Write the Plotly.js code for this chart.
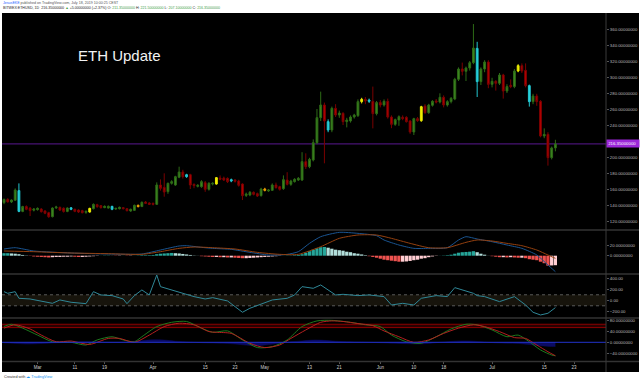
<!DOCTYPE html>
<html><head><meta charset="utf-8">
<script src="https://cdn.plot.ly/plotly-3.0.1.min.js"></script>
<style>html,body{margin:0;padding:0;background:#fff}#chart{width:640px;height:383px}</style>
</head><body><div id="chart"></div>
<script>
// ---------- DATA ----------
const startDate = '2019-02-20';
const opens = [143,147,143.8,146,158,132,138,136,133.5,134.2,135,132.5,130.4,125.4,136.5,137.1,136,132,136.5,134.6,
133.7,132.9,130.8,131.2,135.4,140.4,139.2,136.7,136.2,138.3,135,135.4,136.7,135.4,132.5,133.3,139.6,138,143.7,142.5,
142.1,140.8,165,162,156.7,167.1,165,174.6,181.2,177.9,177.9,165.8,163.3,162.9,167.9,159.6,166.2,166.2,173.7,173.7,
173.3,171.7,171.2,170,166.2,152,152.5,155.8,154.2,151.7,160,157.5,158.3,165,162.9,160.4,171.2,165.8,169.2,171.2,
171.2,194.2,187.9,196.3,217.9,249.2,265,244.2,233.7,260.8,252.5,254.6,244.2,245,250,251.7,269.2,272.1,271.2,269.6,
254.2,268,265,269.6,250,240.8,246.2,249.6,249.6,245,231.2,247.9,245.4,263.7,255.4,264.6,270,268.7,274.6,265,
269.2,272.5,297.1,310,307.1,311.2,317.9,335.8,294.2,310,318.7,290.8,294.6,292.1,302.5,282.5,289.6,288,307.5,314.2,
308.3,289.2,269.2,276.2,269.6,226.2,228.3,199.2,211.35];
const highs = [148,148.5,147,160.8,167,139,139.5,137.5,136,137,136,133.5,131.5,137,139,138,137,137,137.5,135.5,
134.5,134,133,136.5,142,141.5,140,139.5,139.5,139,136.5,138,137.5,136,135.5,140.5,140.5,144.5,145,143.5,
143,168.3,172,179.6,168,171,176.5,187.9,184,179,179,167,166,171,170,168.5,168.5,175,177,175.5,
174.5,173,172.5,171.5,167,155.5,157.5,157,155.5,161.5,161.5,160,167,168,164,177,181,171.5,173.5,175,
206,204.6,199,222,260,281.7,268,247,263,266,258,256,249,252,254,272,274,275,273,288,
270,271,272,273,252,248,252,252,251,246,249,250,264,266,266.5,271,272.5,279.6,277,271,
275,299,312,318,313,320,366.2,344,312,321,321,299,296,305,304,291,297,310,316,317,
317,290.5,279,279,271,235.8,231,213,221.5];
const lows = [141,143,142.5,145,131,131,133.5,126.2,132,133,130.5,128.5,124,124.5,135,132.5,130.5,131,133.5,131,
130,129.5,129,130.5,134.5,136.5,135.5,136,135.5,133.5,134,134.5,134.5,132,131.5,132.5,137,137.5,141.5,140,
139.5,140,158,150.4,154,165.5,164,173.5,173,174,160,161,162,161.5,156.5,158,164.5,165.5,171,170,
167.5,168.5,168,163,146.2,150,151,152,150,150.5,157,156.5,157.5,160.5,158,159,164.5,164,168,170,
170,185,186,194.5,216,245,192.1,231,231,250,249,240,237,243,248,250,267,266,267.5,235.8,
252,262,263,248,236,239,239,246,243,229,227.5,244,244,254,254,263,267,267,262,263,
267,271,295,302,295,308,316,275,290,306,286,287,283,290,273,280,286,286,306,305,
287,263,266,264,224.6,223.5,189.2,197,207.1];
const closes = [147,144,146.2,158.7,132,138,134.6,133,135,135.8,131.7,129.6,125.4,136.2,137.5,133.7,132,136.2,134.6,132.1,
131.2,130.4,132.1,135.8,140.8,137.9,136.7,138.3,138.3,134.6,135.8,137.1,135.4,132.9,134.6,139.6,138,143.3,142.1,140.8,
140.8,165,160.8,156.2,167.1,169.2,175.4,181.2,175.4,175.4,165,164.2,164.6,169.2,159.6,167.1,167.1,174.2,172.1,171.2,
169.2,170,169.6,164.6,151.7,153.7,155.8,153.3,151.2,160,158.3,158.7,165,161.7,159.6,171.7,165.8,170,172.1,173.3,
194.2,187.9,197.1,217.9,249.2,265,245,233.7,260.8,252.5,255,244.2,246.2,250,252.5,269.2,272.1,270,269.6,254.2,
268,265,269.6,250,240.8,246.7,250.4,248,244.2,231.2,247.9,245.4,262.9,255.4,265,269.6,268.7,274.6,265,269.2,
273.3,297.1,310,307.1,311.2,317.9,336.2,294.2,310,318.7,290.8,294.6,292.1,302.5,282.5,288,288,307.5,314.2,307.5,
289.2,269.2,276.2,269.2,226.2,228.3,199.2,211.35,216.35];
const cyanIdx = [4,18,29,49,61,87,98,127,141];
const yellowIdx = [23,57,96,112,138];
const orangeIdx = [36,70];

// MACD panel
const macdIdx = [0,3,8,18,28,37,42,47,49,53,56,61,66,71,76,79,82,85,90,95,100,102,106,110,114,119,122,124,127,131,135,139,143,146,148];
const macdVal = [13.4,16,9.4,5.4,3.4,3.4,11.4,19.4,20,16.7,14.7,12.7,6.7,1.4,2.7,8,24.7,38,46.7,44.7,40,31.4,21.4,14.7,14.7,16,31.4,38,33.4,28,21.4,14.7,1.4,-18.6,-32];
const signalIdx = [0,8,18,28,37,42,47,51,56,62,68,74,79,85,90,95,100,104,109,114,119,124,127,131,135,139,143,146,148];
const signalVal = [9.4,8,5.4,4,2.7,8,14.7,17.4,16,13.4,6.7,2.7,2.7,18,34.7,41.4,41.4,34.7,24.7,16,16,26.7,31.4,29.4,24.7,20,11.4,1.4,-5.3];
const histVal = [5,5,4.5,4,3, 1.5,0.5,-0.5,
-1.5,-2,-2.5,-3,-3.5,-3,-2.5,-2.5,-2,-2,-1.5,-2,-2.5,-2.5,-2,-1.5,-1,
-0.5,0.2,0.5,0.5,0.2,-0.5,-0.5,0.2,-0.5,-0.5,0.2,0.5,1,1,1,
1.5,3,4,4.5,5,5.5,5,4.5,3.5,2.5,1.5,0.5,0.2,
-1,-1.5,-2,-2.5,-2.5,-3,-3,-3.5,-3.5,-4,-4.5,-5,-5,-4.5,-4,-3.5,-3,-2.5,-2,-1.5,-1,
-0.5,0.2,0.5,0.5,1,1.5,
3,6,9,12,15,17,17.5,16,14,12,11,10,8,7,5,4,2.5,1,
-1,-2.5,-4,-6,-8,-9,-10,-11,-12,-12,-11.5,-10.5,-9,-8,-6,-5,-3,-1.5,
-0.5,0.2,0.5,1,2,
4,6,7,7.5,8,9,7,4,2,
0.2,-1,-2,-3,-3,-3.5,-3,-3.5,-4,-4,-5,-7,-8,-9,-12,-15,-20,-19.5,-19];

// CCI panel
const cciIdx = [0,1,3,4,7,10,13,15,18,22,24,26,29,32,33,35,37,39,41,42,45,48,51,54,56,60,64,66,69,72,76,78,80,83,85,87,89,91,95,98,102,104,107,110,112,116,119,121,123,126,127,129,133,137,140,142,144,146,148];
const cciVal = [157,127,157,36,24,-12,-55,6,-36,-61,157,97,85,24,-61,85,188,97,460,248,188,127,67,24,48,-12,-218,-145,-73,6,36,97,248,218,279,188,97,109,85,97,67,-85,-55,-85,36,85,67,230,188,127,85,67,-24,67,-85,-218,-267,-236,-133];
const cciLevels = [-100, 100];

// Stochastic panel
const stochRedIdx = [0,3,7,10,14,18,23,28,31,35,39,43,47,51,55,57,61,66,70,74,77,81,85,88,91,95,99,102,106,110,114,118,122,126,129,133,137,140,143,146,148];
const stochRedVal = [51,63,48,26,2,4.5,-7.6,14,14,0,26,56.6,68.7,63,38.5,36,32,-3.6,-19,-9.7,14,44.5,72,77,75,67.5,60,41,20,0,8.5,32,51,63,56.6,38.5,17,14,-9.7,-34,-48.5];
const stochGreenIdx = [0,2,5,9,13,18,22,25,29,32,35,37,41,45,49,53,56,60,64,68,72,76,80,84,88,93,97,101,104,108,112,116,120,124,127,131,135,138,141,144,147,148];
const stochGreenVal = [57,65,51,26,2,0,-9.7,8.5,20,8.5,2,20,56.6,72,75,51,36,41,8.5,-19,-15.8,8.5,56.6,77,79,72,63,56.6,26,2,-3.6,20,48,65,63,44.5,20,26,2,-27.5,-45.8,-48.5];
const stochFillIdx = [0,3,6,9,12,15,18,22,26,30,34,37,40,43,46,50,54,58,62,65,68,71,74,77,80,83,86,89,92,96,100,104,108,111,114,117,120,123,126,129,132,135,138,141,144,147,148];
const stochFillVal = [-2,-4,-6,-5,-3,-1,1,2,1,0,2,6,9,8,4,1,-2,-3,-6,-10,-12,-8,-3,2,5,8,7,4,2,1,-1,-3,-5,-6,-4,0,3,5,4,1,-2,-3,-4,-8,-12,-15,-15];
const stochLevels = [53, 65];

// Axis ticks (220 is hidden under the last-price label in the reference)
const priceTicks = [120,140,160,180,200,240,260,280,300,320,340,360];
const macdTicks = [0,20];
const cciTicks = [-200,0,200,400];
const stochTicks = [-40,0,40,80];
const xTickDates = ['2019-03-01','2019-03-11','2019-03-19','2019-04-01','2019-04-15','2019-04-23','2019-05-01','2019-05-13','2019-05-21','2019-06-01','2019-06-10','2019-06-18','2019-07-01','2019-07-15','2019-07-23'];
const xTickText = ['Mar','11','19','Apr','15','23','May','13','21','Jun','10','18','Jul','15','23'];

// ---------- BUILD ----------
const t0 = new Date(startDate + 'T00:00:00Z').getTime();
const dates = closes.map((_, i) => new Date(t0 + i * 86400000).toISOString().slice(0, 10));
const pick = (arr, idx) => idx.map(i => arr[i]);
const special = new Set([...cyanIdx, ...yellowIdx, ...orangeIdx]);
const normalIdx = closes.map((_, i) => i).filter(i => !special.has(i));

function candle(idx, incLine, incFill, decLine, decFill) {
  return {
    type: 'candlestick', xaxis: 'x', yaxis: 'y',
    x: pick(dates, idx), open: pick(opens, idx), high: pick(highs, idx), low: pick(lows, idx), close: pick(closes, idx),
    increasing: {line: {color: incLine, width: 1}, fillcolor: incFill},
    decreasing: {line: {color: decLine, width: 1}, fillcolor: decFill},
    whiskerwidth: 0, showlegend: false, hoverinfo: 'skip'
  };
}
const traces = [
  candle(normalIdx, '#2d6a16', '#3f8a22', '#7a0000', '#b80000'),
  candle(cyanIdx, '#22c6d0', '#2ad4de', '#22c6d0', '#2ad4de'),
  candle(yellowIdx, '#e8e800', '#f2f200', '#e8e800', '#f2f200'),
  candle(orangeIdx, '#e89a00', '#f0a800', '#e89a00', '#f0a800')
];

// histogram
const histColors = histVal.map((v, i) => {
  const p = i > 0 ? histVal[i - 1] : v;
  if (v >= 0) return v >= p ? '#26a69a' : '#b2dfdb';
  return v < p ? '#ef5350' : '#ffcdd2';
});
traces.push({type: 'bar', xaxis: 'x', yaxis: 'y2', x: dates, y: histVal, marker: {color: histColors, line: {width: 0}}, hoverinfo: 'skip', showlegend: false});
traces.push({type: 'scatter', mode: 'lines', xaxis: 'x', yaxis: 'y2', x: pick(dates, macdIdx), y: macdVal, line: {color: '#1a5490', width: 1, shape: 'spline', smoothing: 0.6}, hoverinfo: 'skip', showlegend: false});
traces.push({type: 'scatter', mode: 'lines', xaxis: 'x', yaxis: 'y2', x: pick(dates, signalIdx), y: signalVal, line: {color: '#94400f', width: 1, shape: 'spline', smoothing: 0.6}, hoverinfo: 'skip', showlegend: false});

// CCI
traces.push({type: 'scatter', mode: 'lines', xaxis: 'x', yaxis: 'y3', x: pick(dates, cciIdx), y: cciVal, line: {color: '#2f8797', width: 1}, hoverinfo: 'skip', showlegend: false});

// Stoch
traces.push({type: 'scatter', mode: 'lines', xaxis: 'x', yaxis: 'y4', x: pick(dates, stochFillIdx), y: stochFillVal, fill: 'tozeroy', fillcolor: '#0b0b63', line: {color: '#0b0b63', width: 0.5, shape: 'spline'}, hoverinfo: 'skip', showlegend: false});
traces.push({type: 'scatter', mode: 'lines', xaxis: 'x', yaxis: 'y4', x: pick(dates, stochGreenIdx), y: stochGreenVal, line: {color: '#1d7a1d', width: 1, shape: 'spline', smoothing: 0.7}, hoverinfo: 'skip', showlegend: false});
traces.push({type: 'scatter', mode: 'lines', xaxis: 'x', yaxis: 'y4', x: pick(dates, stochRedIdx), y: stochRedVal, line: {color: '#b42020', width: 1, shape: 'spline', smoothing: 0.7}, hoverinfo: 'skip', showlegend: false});

// ---------- LAYOUT ----------
const W = 640, H = 383, ML = 2, MR = 34, MT = 13, MB = 22;
const PW = W - ML - MR, PH = H - MT - MB;
const px = x => (x - ML) / PW;
const py = y => (H - MB - y) / PH;

const lastClose = closes[closes.length - 1];
const prevClose = closes[closes.length - 2];
const chg = lastClose - prevClose;
const pct = chg / prevClose * 100;
const G = s => "<span style='color:#43a047'>" + s + "</span>";
const f8 = v => v.toFixed(8);
const n = closes.length - 1;

const axisCommon = {side: 'right', anchor: 'x', showgrid: false, zeroline: false, showline: false,
  ticks: 'outside', ticklen: 2, tickcolor: '#555', tickfont: {size: 4.3, color: '#bdbdbd', family: 'Liberation Sans'}, fixedrange: true};

const sepColor = '#333333';
const shapes = [
  {type: 'rect', xref: 'paper', yref: 'paper', x0: px(2), x1: px(639), y0: py(372), y1: py(13), fillcolor: '#000', line: {width: 0}, layer: 'below'},
  // CCI band
  {type: 'rect', xref: 'paper', yref: 'y3', x0: 0, x1: 1, y0: cciLevels[0], y1: cciLevels[1], fillcolor: '#17140c', line: {width: 0}, layer: 'below'},
  {type: 'line', xref: 'paper', yref: 'y3', x0: 0, x1: 1, y0: cciLevels[0], y1: cciLevels[0], line: {color: '#5a5a5a', width: 1, dash: 'dot'}, layer: 'below'},
  {type: 'line', xref: 'paper', yref: 'y3', x0: 0, x1: 1, y0: cciLevels[1], y1: cciLevels[1], line: {color: '#5a5a5a', width: 1, dash: 'dot'}, layer: 'below'},
  // Stoch levels
  {type: 'rect', xref: 'paper', yref: 'y4', x0: 0, x1: 1, y0: stochLevels[0], y1: stochLevels[1], fillcolor: '#2a0000', line: {width: 0}, layer: 'below'},
  {type: 'line', xref: 'paper', yref: 'y4', x0: 0, x1: 1, y0: stochLevels[0], y1: stochLevels[0], line: {color: '#8a0000', width: 1}, layer: 'below'},
  {type: 'line', xref: 'paper', yref: 'y4', x0: 0, x1: 1, y0: stochLevels[1], y1: stochLevels[1], line: {color: '#8a0000', width: 1}, layer: 'below'},
  {type: 'line', xref: 'paper', yref: 'y4', x0: 0, x1: 1, y0: 0, y1: 0, line: {color: '#2233cc', width: 1}},
  // last price line
  {type: 'line', xref: 'paper', yref: 'y', x0: 0, x1: 1, y0: lastClose, y1: lastClose, line: {color: '#5a1890', width: 1}, layer: 'below'},
  // separators
  {type: 'line', xref: 'paper', yref: 'paper', x0: px(2), x1: px(639), y0: py(230), y1: py(230), line: {color: sepColor, width: 1.5}},
  {type: 'line', xref: 'paper', yref: 'paper', x0: px(2), x1: px(639), y0: py(274), y1: py(274), line: {color: sepColor, width: 1.5}},
  {type: 'line', xref: 'paper', yref: 'paper', x0: px(2), x1: px(639), y0: py(318), y1: py(318), line: {color: sepColor, width: 1.5}},
  {type: 'line', xref: 'paper', yref: 'paper', x0: px(2), x1: px(639), y0: py(361.5), y1: py(361.5), line: {color: sepColor, width: 1.5}},
  {type: 'line', xref: 'paper', yref: 'paper', x0: px(606), x1: px(606), y0: py(372), y1: py(13), line: {color: '#3a3a3a', width: 1}}
];

const annotations = [
  {xref: 'paper', yref: 'paper', x: px(0.5), y: py(3), xanchor: 'left', yanchor: 'middle', showarrow: false,
   text: "<span style='color:#2962ff'>JesusEKE</span> published on TradingView.com, July 18, 2019 10:00:25 CEST",
   font: {size: 3.6, color: '#555', family: 'Liberation Sans'}},
  {xref: 'paper', yref: 'paper', x: px(0.5), y: py(8.5), xanchor: 'left', yanchor: 'middle', showarrow: false,
   text: 'BITWEX:ETHUSD, 1D  ' + f8(lastClose) + ' ' + G('▲') + ' +' + f8(chg) + ' (+' + pct.toFixed(2) + '%) O: ' + G(f8(opens[n])) +
         ' H: ' + G(f8(highs[n])) + ' L: ' + G(f8(lows[n])) + ' C: ' + G(f8(closes[n])),
   font: {size: 3.6, color: '#222', family: 'Liberation Sans'}},
  {xref: 'paper', yref: 'paper', x: px(76), y: py(55), xanchor: 'left', yanchor: 'middle', showarrow: false,
   text: 'ETH Update', font: {size: 15, color: '#f2f2f2', family: 'Liberation Sans'}},
  {xref: 'paper', yref: 'y', x: 1, y: lastClose, xanchor: 'left', yanchor: 'middle', showarrow: false,
   text: f8(lastClose), bgcolor: '#9c27d8', borderpad: 1.2, width: 30, height: 5, align: 'left',
   font: {size: 4.3, color: '#ffffff', family: 'Liberation Sans'}},
  {xref: 'paper', yref: 'paper', x: px(2), y: py(377.5), xanchor: 'left', yanchor: 'middle', showarrow: false,
   text: "Created with <span style='color:#2196f3'>☁ TradingView</span>", font: {size: 3.8, color: '#333', family: 'Liberation Sans'}}
];

const layout = {
  width: W, height: H, margin: {l: ML, r: MR, t: MT, b: MB},
  paper_bgcolor: '#ffffff', plot_bgcolor: '#000000', showlegend: false,
  font: {family: 'Liberation Sans'}, bargap: 0.12, dragmode: false,
  xaxis: {type: 'date', range: ['2019-02-19 11:00', '2019-07-31 14:00'], anchor: 'y4', domain: [0, 1],
    tickvals: xTickDates, ticktext: xTickText, ticks: 'outside', ticklen: 2, tickcolor: '#555',
    tickfont: {size: 4.5, color: '#d0d0d0', family: 'Liberation Sans'}, showgrid: false, zeroline: false, showline: false,
    rangeslider: {visible: false}, fixedrange: true},
  yaxis: Object.assign({}, axisCommon, {domain: [py(230), 1], range: [108.75, 380], tickvals: priceTicks, tickformat: '.8f'}),
  yaxis2: Object.assign({}, axisCommon, {domain: [py(274), py(230)], range: [-36.6, 51.4], tickvals: macdTicks, tickformat: '.8f'}),
  yaxis3: Object.assign({}, axisCommon, {domain: [py(318), py(274)], range: [-322, 478], tickvals: cciTicks, tickformat: '.2f'}),
  yaxis4: Object.assign({}, axisCommon, {domain: [0, py(318)], range: [-67.3, 87.5], tickvals: stochTicks, tickformat: '.8f'}),
  shapes: shapes, annotations: annotations
};

Plotly.newPlot('chart', traces, layout, {displayModeBar: false, staticPlot: true});
</script></body></html>
